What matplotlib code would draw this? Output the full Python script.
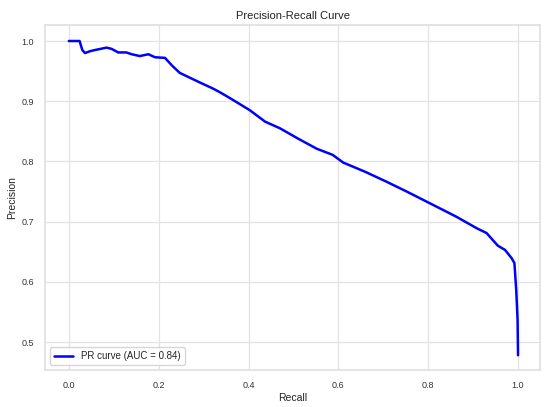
import matplotlib
matplotlib.use("Agg")
import matplotlib.pyplot as plt
import seaborn as sns

# --- Data (recall, precision) ---
recall = [0.0, 0.024, 0.030, 0.036, 0.047, 0.058, 0.084, 0.095, 0.110, 0.128,
          0.140, 0.158, 0.177, 0.192, 0.214, 0.230, 0.247, 0.292, 0.321, 0.336,
          0.359, 0.403, 0.437, 0.470, 0.510, 0.552, 0.587, 0.611, 0.659, 0.708,
          0.752, 0.797, 0.834, 0.863, 0.908, 0.930, 0.955, 0.971, 0.986, 0.992,
          0.996, 0.999, 1.0]
precision = [1.0, 1.0, 0.985, 0.980, 0.983, 0.985, 0.989, 0.987, 0.981, 0.981,
             0.978, 0.975, 0.978, 0.973, 0.972, 0.959, 0.947, 0.931, 0.921, 0.915,
             0.905, 0.885, 0.866, 0.855, 0.838, 0.821, 0.811, 0.798, 0.783, 0.766,
             0.750, 0.733, 0.719, 0.708, 0.689, 0.681, 0.660, 0.653, 0.639, 0.631,
             0.586, 0.537, 0.478]
auc_value = 0.84

sns.set_theme(style="whitegrid")
plt.rcParams['font.family'] = ['Liberation Sans', 'DejaVu Sans']

fig = plt.figure(figsize=(5.45, 4.07), dpi=100)
ax = fig.add_axes([0.0826, 0.0909, 0.9083, 0.8477])

ax.plot(recall, precision, color='blue', lw=1.8,
        label=f'PR curve (AUC = {auc_value:.2f})')

ax.set_xlim(-0.053, 1.049)
ax.set_ylim(0.4535, 1.0266)
ax.set_xticks([0.0, 0.2, 0.4, 0.6, 0.8, 1.0])
ax.set_yticks([0.5, 0.6, 0.7, 0.8, 0.9, 1.0])
ax.grid(color='#e3e3e3', lw=0.9)

ax.tick_params(labelsize=6.5, colors='#333333', pad=2)
ax.set_xlabel('Recall', fontsize=7.5, color='#222222', labelpad=2)
ax.set_ylabel('Precision', fontsize=7.5, color='#222222', labelpad=3)
ax.set_title('Precision-Recall Curve', fontsize=8, color='#222222', pad=4)
ax.legend(loc='lower left', fontsize=7, frameon=True)

for s in ax.spines.values():
    s.set_color('#e0e0e0')

fig.savefig('out.png', dpi=100)
